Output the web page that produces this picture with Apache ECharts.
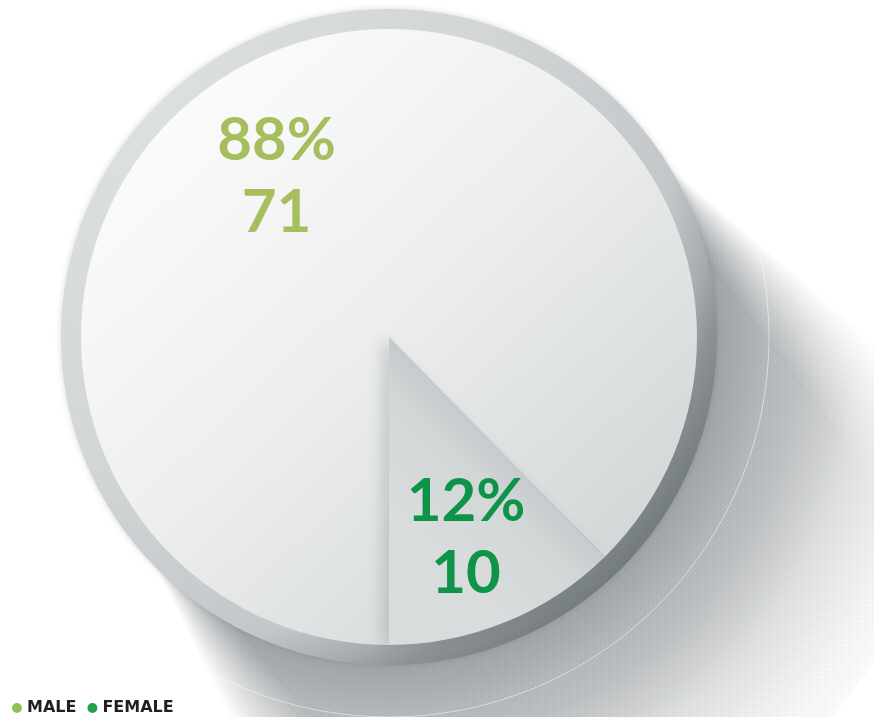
<!DOCTYPE html>
<html>
<head>
<meta charset="utf-8">
<title>Male / Female</title>
<script src="https://cdn.jsdelivr.net/npm/echarts@6/dist/echarts.min.js"></script>
<style>
  html, body { margin: 0; padding: 0; background: #ffffff; }
  #chart { width: 874px; height: 717px; }
</style>
</head>
<body>
<div id="chart"></div>
<script>
// Headcount by gender
const categories = ['MALE', 'FEMALE'];
const counts = [71, 10];
const labelColors = ['#a6bf5e', '#0e9447'];
const legendColors = ['#8dc153', '#1fa24a'];

// Dial geometry (pixels)
const CX = 389, CY = 337;
const R_INNER = 308, R_OUTER = 328, R_HALO = 380;

// Label anchor per slice: [angle from 12 o'clock clockwise (deg), distance from centre (px)]
const labelAnchor = [[-35, 196], [159, 215]];

// Long cast shadow of the dial, falling towards the lower right and fading with distance
const SHADOW_DIR = [0.616, 0.788];
const SHADOW_LEN = 340;
const SHADOW_LAYERS = 16;
const SHADOW_REACH = 620;

function shadowHull(r0, r1) {
  const d = SHADOW_DIR;
  const n = [d[1], -d[0]];
  const ex = CX + SHADOW_LEN * d[0], ey = CY + SHADOW_LEN * d[1];
  const base = Math.atan2(n[1], n[0]);
  const pts = [];
  const steps = 60;
  for (let i = 0; i <= steps; i++) {
    const a = base + Math.PI * i / steps;
    pts.push([ex + r1 * Math.cos(a), ey + r1 * Math.sin(a)]);
  }
  for (let i = 0; i <= steps; i++) {
    const a = base + Math.PI + Math.PI * i / steps;
    pts.push([CX + r0 * Math.cos(a), CY + r0 * Math.sin(a)]);
  }
  return pts;
}

function shadowLayers() {
  const out = [];
  const a = 0.042;
  const rgba = (v) => 'rgba(66,74,79,' + v.toFixed(4) + ')';
  for (let k = 0; k < SHADOW_LAYERS; k++) {
    const fill = new echarts.graphic.RadialGradient(CX, CY, SHADOW_REACH, [
      { offset: 0, color: rgba(a) },
      { offset: R_OUTER / SHADOW_REACH, color: rgba(a) },
      { offset: 0.606, color: rgba(a * 0.78) },
      { offset: 0.656, color: rgba(a * 0.62) },
      { offset: 0.77, color: rgba(a * 0.3) },
      { offset: 0.885, color: rgba(a * 0.12) },
      { offset: 1, color: rgba(0) }
    ], true);
    out.push({
      type: 'polygon',
      z: 0,
      silent: true,
      shape: { points: shadowHull(302 + k, 296 + k * 6) },
      style: { fill: fill }
    });
  }
  return out;
}

const chart = echarts.init(document.getElementById('chart'), null, { renderer: 'canvas' });

const ringFill = new echarts.graphic.RadialGradient(150, 120, 690, [
  { offset: 0, color: '#dde0e1' },
  { offset: 0.5, color: '#d2d6d7' },
  { offset: 0.76, color: '#c3c7c9' },
  { offset: 0.83, color: '#a6abad' },
  { offset: 0.87, color: '#8b9194' },
  { offset: 0.95, color: '#71787b' },
  { offset: 1, color: '#6a7174' }
], true);

const maleFill = new echarts.graphic.LinearGradient(150, 90, 660, 630, [
  { offset: 0, color: '#fcfcfb' },
  { offset: 0.45, color: '#eceeed' },
  { offset: 1, color: '#ccd1d2' }
], true);

// Female wedge: shaded along its diagonal edge, lighter towards the vertical edge
const femaleFill = new echarts.graphic.LinearGradient(500, 448, 420, 528, [
  { offset: 0, color: '#c4c9cb' },
  { offset: 0.3, color: '#d3d6d7' },
  { offset: 1, color: '#d9dcdc' }
], true);

const labelRich = (i) => ({
  pct: { fontSize: 60, fontWeight: 'bold', fontFamily: 'Lato', color: labelColors[i], lineHeight: 72, align: 'center' },
  num: { fontSize: 60, fontWeight: 'bold', fontFamily: 'Lato', color: labelColors[i], lineHeight: 72, align: 'center' }
});

const seriesData = categories.map((name, i) => ({
  name: name,
  value: counts[i],
  itemStyle: i === 0
    ? { color: maleFill }
    : {
        color: femaleFill,
        shadowBlur: 14,
        shadowOffsetX: -8,
        shadowOffsetY: 0,
        shadowColor: 'rgba(60,70,75,0.18)'
      },
  label: { rich: labelRich(i) }
}));

const option = {
  backgroundColor: '#ffffff',
  animation: false,
  graphic: {
    elements: shadowLayers().concat([
      {
        type: 'circle',
        z: 1,
        shape: { cx: CX, cy: CY, r: R_HALO },
        style: { fill: null, stroke: 'rgba(255,255,255,0.5)', lineWidth: 1 },
        silent: true
      },
      {
        // dial rim
        type: 'circle',
        z: 2,
        shape: { cx: CX, cy: CY, r: R_OUTER },
        style: {
          fill: ringFill,
          shadowBlur: 6,
          shadowColor: 'rgba(90,95,100,0.25)'
        },
        silent: true
      }
    ])
  },
  legend: {
    data: categories.map((n, i) => ({ name: n, itemStyle: { color: legendColors[i] } })),
    left: 12,
    top: 700,
    padding: 0,
    icon: 'circle',
    itemWidth: 10,
    itemHeight: 10,
    itemGap: 11,
    selectedMode: false,
    textStyle: { fontFamily: 'DejaVu Sans', fontWeight: 'bold', fontSize: 16, color: '#231f20' }
  },
  series: [
    {
      type: 'pie',
      center: [CX, CY],
      radius: [0, R_INNER],
      startAngle: 270,
      clockwise: true,
      percentPrecision: 0,
      silent: true,
      data: seriesData,
      itemStyle: { borderWidth: 0 },
      label: {
        show: true,
        position: 'inside',
        formatter: '{pct|{d}%}\n{num|{c}}'
      },
      labelLine: { show: false },
      labelLayout: function (p) {
        const a = labelAnchor[p.dataIndex];
        const rad = a[0] * Math.PI / 180;
        return {
          x: CX + a[1] * Math.sin(rad),
          y: CY - a[1] * Math.cos(rad),
          align: 'center',
          verticalAlign: 'middle'
        };
      }
    }
  ]
};

chart.setOption(option);
</script>
</body>
</html>
